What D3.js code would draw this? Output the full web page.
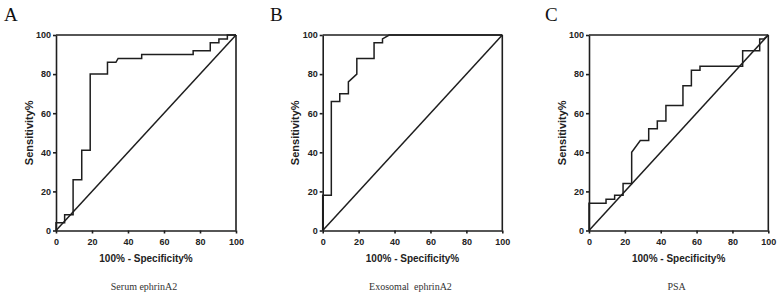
<!DOCTYPE html>
<html>
<head>
<meta charset="utf-8">
<title>ROC curves</title>
<script src="https://cdn.jsdelivr.net/npm/d3@7/dist/d3.min.js"></script>
<style>
  body { margin: 0; background: #fff; }
  .axis path, .axis line { stroke: #1e1e1e; stroke-width: 1.6px; }
  .axis text { font-family: "Liberation Sans", Arial, sans-serif; font-weight: bold; font-size: 9px; fill: #222; }
  .ttl { font-family: "Liberation Sans", Arial, sans-serif; font-weight: bold; fill: #222; }
  .cap { font-family: "Liberation Serif", "Times New Roman", serif; fill: #333; white-space: pre; }
</style>
</head>
<body>
<div id="chart"></div>
<script>
// 100% - specificity% (x) and sensitivity% (y) for each ROC curve
var serumX = [0, 0, 4.8, 4.8, 9.5, 9.5, 14.3, 14.3, 19, 19, 28.6, 28.6, 33.3, 34.5, 47.6, 47.6, 76.2, 76.2, 85.7, 85.7, 90.5, 90.5, 95.2, 95.2, 100];
var serumY = [0, 4, 4, 8, 8, 26, 26, 41, 41, 80, 80, 86, 86, 88, 88, 90, 90, 92, 92, 96, 96, 98, 98, 100, 100];

var exoX = [0, 0, 4.8, 4.8, 9.5, 9.5, 14.3, 14.3, 19, 19, 28.6, 28.6, 33.3, 33.3, 37, 100];
var exoY = [0, 18, 18, 66, 66, 70, 70, 76, 80, 88, 88, 96, 96, 98, 100, 100];

var psaX = [0, 0, 9.5, 9.5, 14.3, 14.3, 19, 19, 23.8, 23.8, 28.6, 33.3, 33.3, 38.1, 38.1, 42.9, 42.9, 52.4, 52.4, 57.1, 57.1, 61.9, 61.9, 85.7, 85.7, 95.2, 95.2, 97.6, 100];
var psaY = [0, 14, 14, 16, 16, 18, 18, 24, 24, 40, 46, 46, 52, 52, 56, 56, 64, 64, 74, 74, 82, 82, 84, 84, 92, 92, 98, 98, 100];

var tickVals = [0, 20, 40, 60, 80, 100];
var letters = ["A", "B", "C"];
var captions = ["Serum ephrinA2", "Exosomal  ephrinA2", "PSA"];
var xTitle = "100% - Specificity%";
var yTitle = "Sensitivity%";

var panels = [
  {x: serumX, y: serumY, left: 56, right: 236, letterX: 4},
  {x: exoX, y: exoY, left: 322.7, right: 502.3, letterX: 270},
  {x: psaX, y: psaY, left: 589, right: 768.3, letterX: 545}
];
var plotTop = 35, plotBottom = 230.5;

var svg = d3.select("#chart").append("svg")
  .attr("width", 779)
  .attr("height", 295);

panels.forEach(function(p, k) {
  var xScale = d3.scaleLinear().domain([0, 100]).range([p.left, p.right]);
  var yScale = d3.scaleLinear().domain([0, 100]).range([plotBottom, plotTop]);
  var g = svg.append("g");

  // panel letter
  g.append("text")
    .attr("class", "cap")
    .attr("x", p.letterX)
    .attr("y", 21)
    .style("font-size", "19px")
    .style("fill", "#111")
    .text(letters[k]);

  // frame top + right
  g.append("line")
    .attr("x1", xScale(0)).attr("x2", xScale(100))
    .attr("y1", yScale(100)).attr("y2", yScale(100))
    .attr("stroke", "#1e1e1e").attr("stroke-width", 1.6);
  g.append("line")
    .attr("x1", xScale(100)).attr("x2", xScale(100))
    .attr("y1", yScale(0)).attr("y2", yScale(100))
    .attr("stroke", "#1e1e1e").attr("stroke-width", 1.6);

  // axes
  g.append("g")
    .attr("class", "axis")
    .attr("transform", "translate(0," + plotBottom + ")")
    .call(d3.axisBottom(xScale).tickValues(tickVals).tickSize(3).tickPadding(5).tickSizeOuter(0));
  g.append("g")
    .attr("class", "axis")
    .attr("transform", "translate(" + p.left + ",0)")
    .call(d3.axisLeft(yScale).tickValues(tickVals).tickSize(3).tickPadding(2).tickSizeOuter(0));

  // reference diagonal
  g.append("line")
    .attr("x1", xScale(0)).attr("y1", yScale(0))
    .attr("x2", xScale(100)).attr("y2", yScale(100))
    .attr("stroke", "#1e1e1e").attr("stroke-width", 1.5);

  // ROC curve
  var pts = p.x.map(function(v, i) { return [v, p.y[i]]; });
  g.append("path")
    .datum(pts)
    .attr("fill", "none")
    .attr("stroke", "#1e1e1e")
    .attr("stroke-width", 1.5)
    .attr("d", d3.line()
      .x(function(d) { return xScale(d[0]); })
      .y(function(d) { return yScale(d[1]); }));

  // titles
  var mid = (p.left + p.right) / 2;
  g.append("text")
    .attr("class", "ttl")
    .attr("x", mid)
    .attr("y", 261.5)
    .attr("text-anchor", "middle")
    .style("font-size", "10px")
    .text(xTitle);
  g.append("text")
    .attr("class", "ttl")
    .attr("transform", "translate(" + (p.left - 23.5) + "," + ((plotTop + plotBottom) / 2) + ") rotate(-90)")
    .attr("text-anchor", "middle")
    .style("font-size", "11px")
    .text(yTitle);
  g.append("text")
    .attr("class", "cap")
    .attr("x", mid - 2)
    .attr("y", 289.5)
    .attr("text-anchor", "middle")
    .style("font-size", "10px")
    .text(captions[k]);
});
</script>
</body>
</html>
